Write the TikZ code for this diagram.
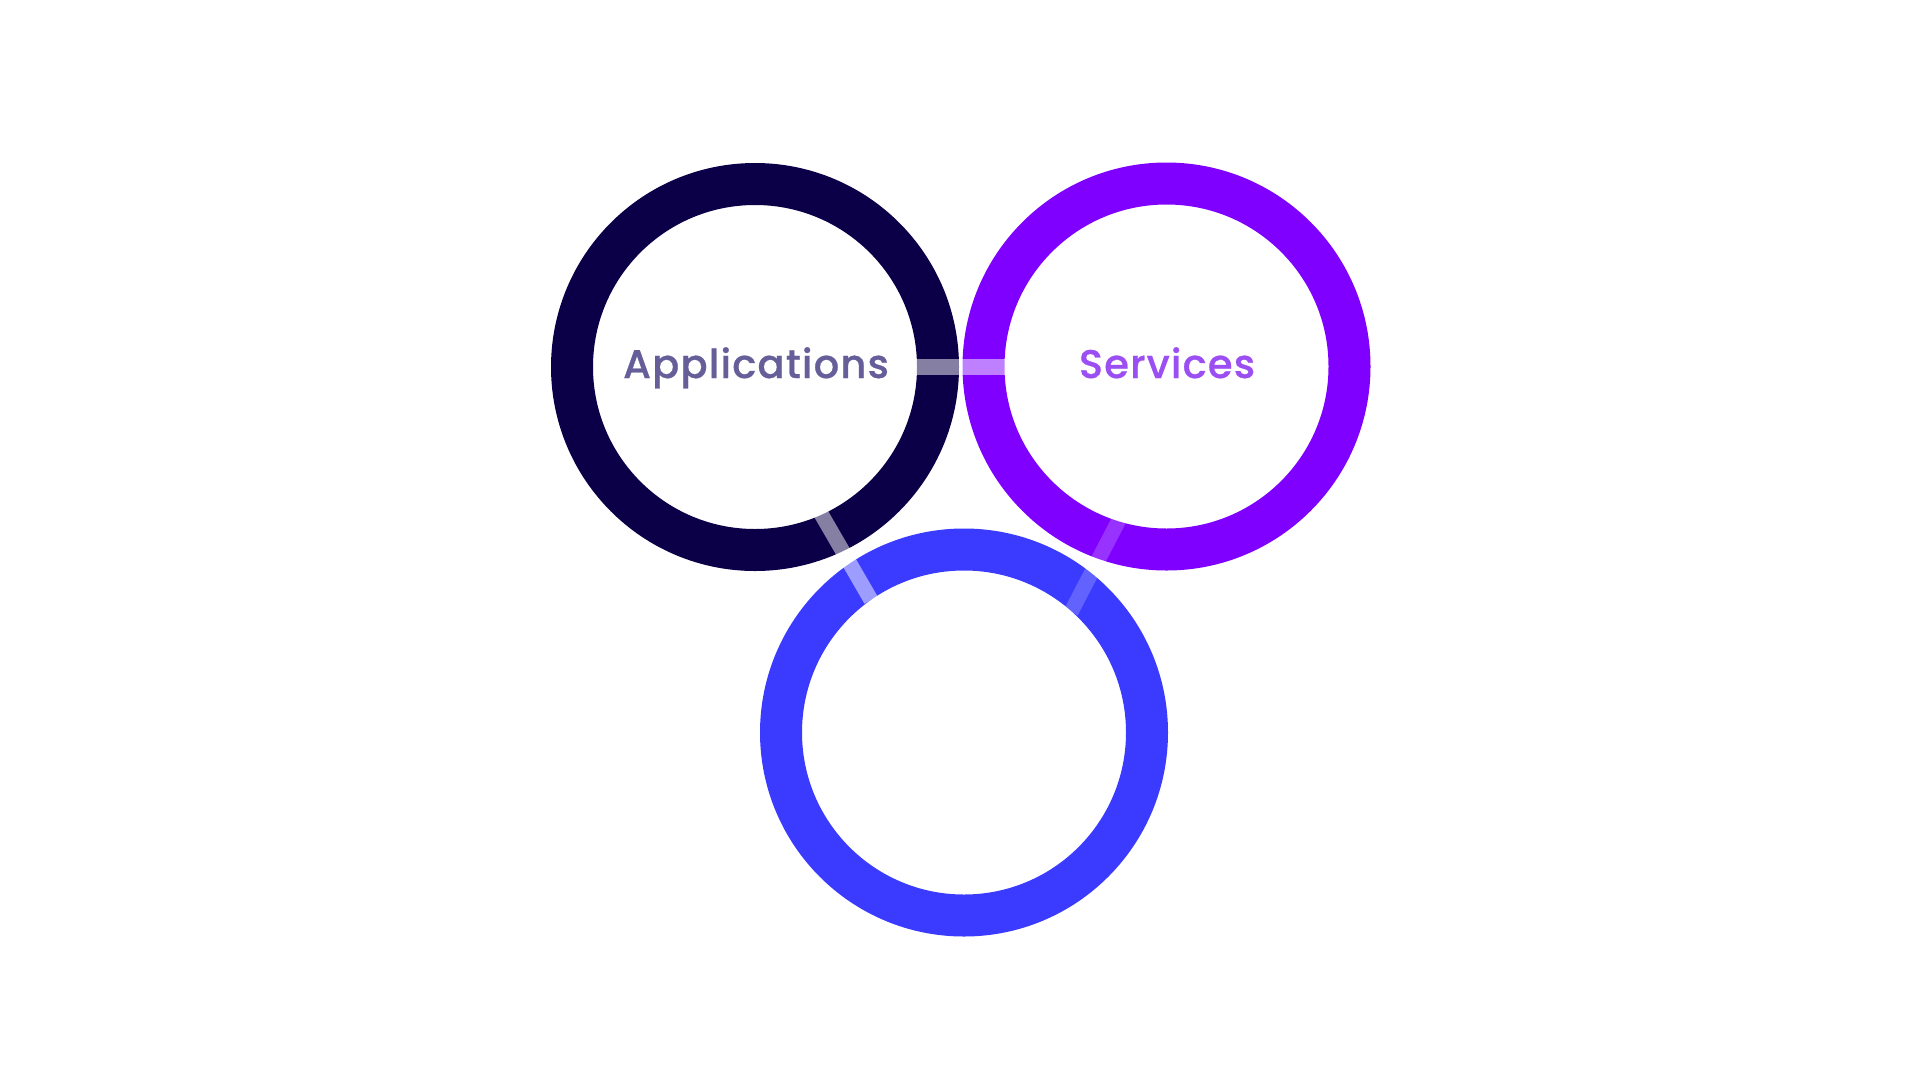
\documentclass[tikz,border=0pt]{standalone}
\usepackage{fontspec}
\setmainfont{TeX Gyre Heros}
\newfontfamily\labelfont{Poppins}[UprightFont=* Medium, FakeBold=0.6, LetterSpace=3]
\definecolor{navy}{HTML}{0B0047}
\definecolor{violetring}{HTML}{7F00FF}
\definecolor{bluering}{HTML}{3B3BFF}
\definecolor{apptext}{HTML}{655E98}
\definecolor{svctext}{HTML}{9B4FF2}
\tikzset{
  ring/.style={circle, draw, line width=42pt, minimum size=366pt, inner sep=0pt, outer sep=0pt},
  link/.style={draw=white, line cap=butt, line width=15pt},
  lbl/.style={anchor=base, inner sep=0pt, font=\labelfont\fontsize{40pt}{44pt}\selectfont}
}
\begin{document}
\begin{tikzpicture}[x=1pt, y=-1pt]
\useasboundingbox[fill=white] (0,0) rectangle (1920,1080);
% rings
\node[ring, draw=navy] (apps) at (755,367) {};
\node[ring, draw=violetring] (svcs) at (1166.5,366.5) {};
\node[ring, draw=bluering] (third) at (964,732.5) {};
% connector end points
\coordinate (ah) at (908,367);
\coordinate (sh) at (1012,367);
\coordinate (ab) at (820,512);
\coordinate (ba) at (871,600);
\coordinate (sb) at (1119,520);
\coordinate (bs) at (1071,612);
% connectors
\draw[link, line width=16pt, opacity=0.5] (ah) -- (sh);
\draw[link, opacity=0.5] (ab) -- (ba);
\draw[link, opacity=0.2] (sb) -- (bs);
% labels
\node[lbl, text=apptext] (applbl) at (756,378) {Applications};
\node[lbl, text=svctext] (svclbl) at (1167,378) {Services};
\end{tikzpicture}
\end{document}
